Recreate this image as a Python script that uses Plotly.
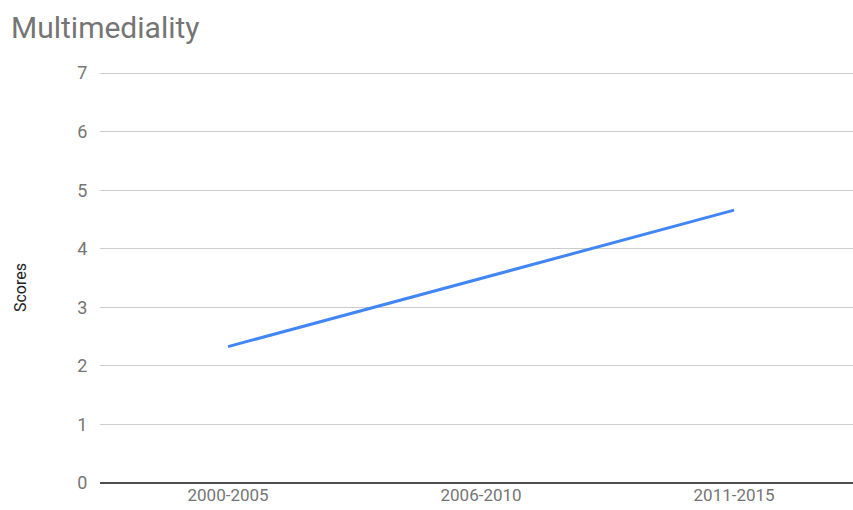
import plotly.graph_objects as go

# Average multimediality score per period
periods = ["2000-2005", "2006-2010", "2011-2015"]
scores = [2.33, 3.5, 4.66]
y_ticks = [0, 1, 2, 3, 4, 5, 6, 7]

PLOT_TOP, PLOT_BOTTOM = 73, 483
Y_MAX = 7.02

fig = go.Figure()
fig.add_trace(go.Scatter(
    x=periods, y=scores, mode="lines",
    line=dict(color="#4285F4", width=3),
    hoverinfo="x+y",
))

plot_h = PLOT_BOTTOM - PLOT_TOP
# add a little headroom so the top gridline is drawn
top_margin = PLOT_TOP - plot_h * (Y_MAX - 7) / 7

fig.update_layout(
    width=853, height=510,
    margin=dict(l=100, r=0, t=top_margin, b=510 - PLOT_BOTTOM, autoexpand=False),
    paper_bgcolor="white", plot_bgcolor="white",
    font=dict(family="Roboto, Arial, sans-serif", color="#757575"),
    showlegend=False,
    title=dict(
        text="Multimediality",
        font=dict(size=30, color="#757575", family="Roboto, Arial, sans-serif"),
        xref="container", yref="container",
        x=11 / 853, xanchor="left",
        y=1 - 27 / 510, yanchor="middle",
    ),
    xaxis=dict(
        type="category",
        range=[-0.506, 2.47],
        automargin=False,
        showgrid=False, zeroline=False, showline=False,
        ticks="", ticklabelstandoff=0,
        tickfont=dict(size=17, color="#757575"),
    ),
    yaxis=dict(
        range=[0, Y_MAX],
        automargin=False,
        tickvals=y_ticks,
        showgrid=True, gridcolor="#cccccc", gridwidth=1,
        zeroline=True, zerolinecolor="#4d4d4d", zerolinewidth=1.6,
        showline=False,
        ticks="outside", ticklen=8, tickcolor="rgba(0,0,0,0)",
        tickfont=dict(size=18, color="#757575"),
    ),
    annotations=[dict(
        text="Scores", textangle=-90,
        xref="paper", yref="paper",
        x=(20 - 100) / 753, y=(PLOT_BOTTOM - 288) / (PLOT_BOTTOM - top_margin),
        xanchor="center", yanchor="middle",
        showarrow=False,
        font=dict(size=16, color="#222222", family="Roboto, Arial, sans-serif"),
    )],
)

fig.write_html("out.html")
